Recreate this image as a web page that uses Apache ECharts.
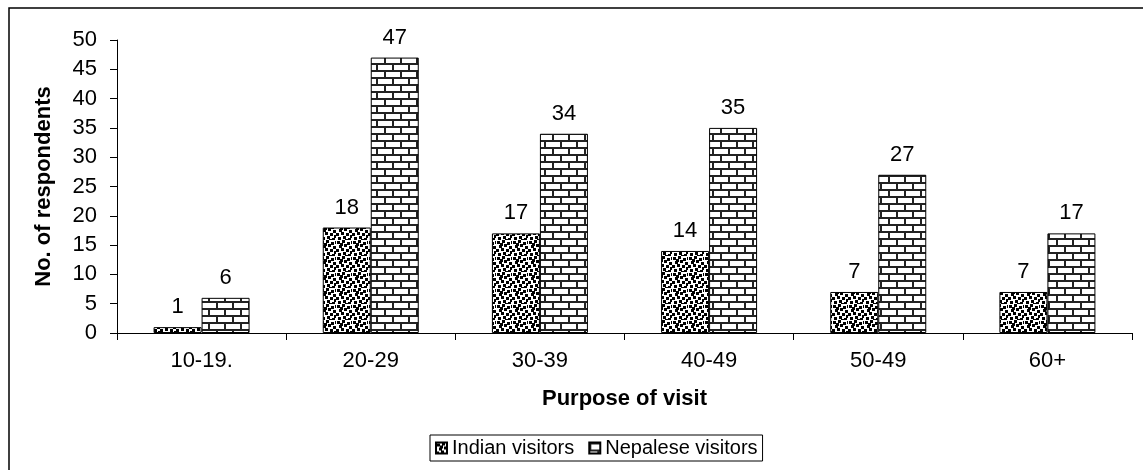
<!DOCTYPE html>
<html lang="en">
<head>
<meta charset="utf-8" />
<title>Visitors by age</title>
<script src="https://cdn.jsdelivr.net/npm/echarts@6/dist/echarts.min.js"></script>
<style>
  html, body { margin: 0; padding: 0; background: #fff; }
  #chart { width: 1143px; height: 470px; }
</style>
</head>
<body>
<div id="chart"></div>
<script>
var categories = ['10-19.', '20-29', '30-39', '40-49', '50-49', '60+'];
var indianVisitors = [1, 18, 17, 14, 7, 7];
var nepaleseVisitors = [6, 47, 34, 35, 27, 17];

// speckled fill for Indian visitors
function dotPattern() {
    var c = document.createElement('canvas');
    c.width = 16; c.height = 16;
    var ctx = c.getContext('2d');
    ctx.fillStyle = '#fff';
    ctx.fillRect(0, 0, 16, 16);
    ctx.fillStyle = '#000';
    var pts = [[1,1],[6,0],[11,2],[3,5],[8,4],[13,6],[0,9],[5,8],[10,9],[14,11],
               [2,13],[7,12],[12,14],[4,3],[9,15],[15,1]];
    for (var i = 0; i < pts.length; i++) {
        ctx.fillRect(pts[i][0], pts[i][1], 3, 3);
    }
    return c;
}

// brick fill for Nepalese visitors
function brickPattern() {
    var c = document.createElement('canvas');
    c.width = 16; c.height = 14;
    var ctx = c.getContext('2d');
    ctx.fillStyle = '#fff';
    ctx.fillRect(0, 0, 16, 14);
    ctx.fillStyle = '#222';
    ctx.fillRect(0, 0, 16, 2);
    ctx.fillRect(0, 7, 16, 2);
    ctx.fillRect(0, 0, 2, 7);
    ctx.fillRect(8, 7, 2, 7);
    return c;
}

var chart = echarts.init(document.getElementById('chart'));
var FONT = 'Liberation Sans, Arial';
var labelStyle = { show: true, position: 'top', distance: 9, color: '#000', fontSize: 22, fontFamily: FONT };

var option = {
    animation: false,
    textStyle: { fontFamily: FONT },
    graphic: [{
        type: 'rect',
        shape: { x: 9, y: 8, width: 1300, height: 600 },
        style: { fill: 'none', stroke: '#000', lineWidth: 1.5 },
        silent: true
    }],
    grid: { left: 117, right: 11, top: 40, bottom: 137 },
    legend: {
        top: 435,
        left: 430,
        data: ['Indian visitors', 'Nepalese visitors'],
        icon: 'rect',
        itemWidth: 11,
        itemHeight: 11,
        itemGap: 14,
        padding: [3, 5],
        borderColor: '#000',
        borderWidth: 1,
        textStyle: { fontSize: 20, color: '#000' }
    },
    xAxis: {
        type: 'category',
        data: categories,
        name: 'Purpose of visit',
        nameLocation: 'middle',
        nameGap: 55,
        nameTextStyle: { fontSize: 22, fontWeight: 'bold', color: '#000' },
        axisLine: { lineStyle: { color: '#000', width: 1 } },
        axisTick: { show: true, alignWithLabel: false, length: 7, lineStyle: { color: '#000' } },
        axisLabel: { color: '#000', fontSize: 22, margin: 17 }
    },
    yAxis: {
        type: 'value',
        min: 0,
        max: 50,
        interval: 5,
        name: 'No. of respondents',
        nameLocation: 'middle',
        nameRotate: 90,
        nameGap: 62,
        nameTextStyle: { fontSize: 22, fontWeight: 'bold', color: '#000' },
        axisLine: { show: true, lineStyle: { color: '#000', width: 1 } },
        axisTick: { show: true, length: 7, lineStyle: { color: '#000' } },
        axisLabel: { color: '#000', fontSize: 22, margin: 20 },
        splitLine: { show: false }
    },
    series: [{
        name: 'Indian visitors',
        type: 'bar',
        data: indianVisitors,
        barWidth: 48,
        barGap: '0%',
        itemStyle: { color: { image: dotPattern(), repeat: 'repeat' }, borderColor: '#000', borderWidth: 1 },
        label: labelStyle
    }, {
        name: 'Nepalese visitors',
        type: 'bar',
        data: nepaleseVisitors,
        barWidth: 48,
        barGap: '0%',
        itemStyle: { color: { image: brickPattern(), repeat: 'repeat' }, borderColor: '#000', borderWidth: 1 },
        label: labelStyle
    }]
};
chart.setOption(option);
</script>
</body>
</html>
